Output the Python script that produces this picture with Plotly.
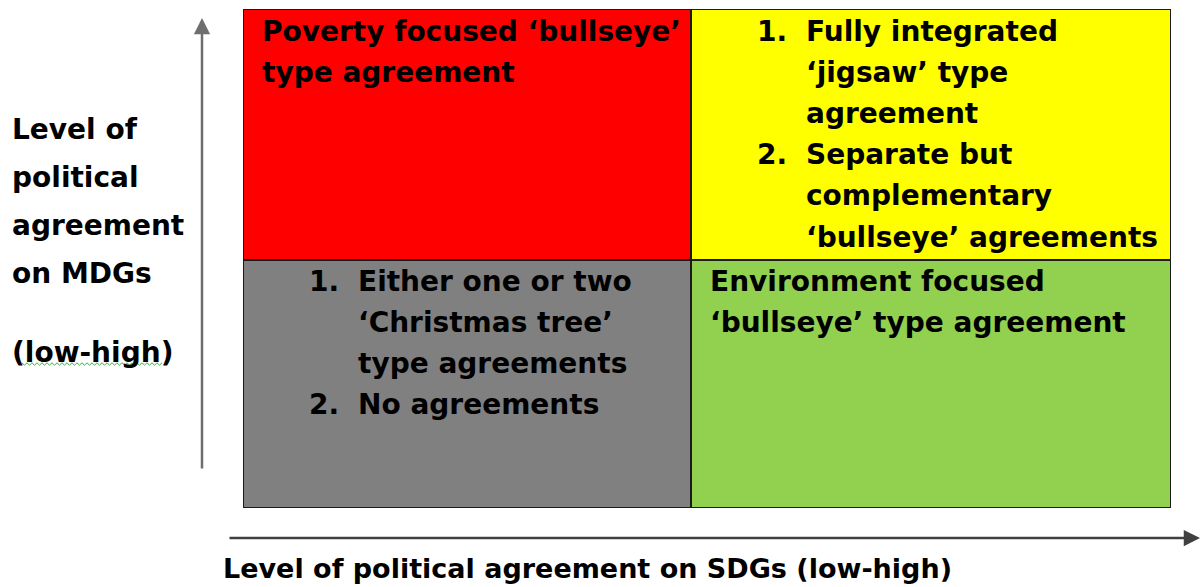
import plotly.graph_objects as go

# ---- data ----
quad_col = [0, 1, 0, 1]          # SDG level: 0 = low, 1 = high
quad_row = [1, 1, 0, 0]          # MDG level: 0 = low, 1 = high
quad_colors = ["#ff0000", "#ffff00", "#808080", "#92d050"]
quad_numbers = [
    [None],
    ["1.", "2."],
    ["1.", "2."],
    [None],
]
quad_items = [
    [["Poverty focused \u2018bullseye\u2019", "type agreement"]],
    [["Fully integrated", "\u2018jigsaw\u2019 type", "agreement"],
     ["Separate but", "complementary", "\u2018bullseye\u2019 agreements"]],
    [["Either one or two", "\u2018Christmas tree\u2019", "type agreements"],
     ["No agreements"]],
    [["Environment focused", "\u2018bullseye\u2019 type agreement"]],
]
y_label_lines = ["Level of", "political", "agreement", "on MDGs"]
y_label_range = "(low-high)"
x_label = "Level of political agreement on SDGs (low-high)"

# ---- layout geometry (pixels) ----
W, H = 1201, 587
L, R, T, B = 243, 1171, 9, 508
XS, YS = 691, 260               # pixel position of the dividers
PW, PH = R - L, B - T
FONT = "DejaVu Sans"
FS = 28
LINE = 41.2

def X(px):
    return px - L

def Y(py):
    return B - py

col_edges = [(X(L), X(XS)), (X(XS), X(R))]
row_edges = [(Y(B), Y(YS)), (Y(YS), Y(T))]

fig = go.Figure()
fig.add_trace(go.Scatter(x=[0, PW], y=[0, PH], mode="markers",
                         marker=dict(opacity=0), hoverinfo="skip", showlegend=False))

shapes = []
annotations = []
font = dict(family=FONT, size=FS, color="black", weight="bold")
# shadow
shapes.append(dict(type="rect", xref="x", yref="y", x0=3, x1=PW + 3, y0=-3, y1=PH - 3,
                   line=dict(width=0), fillcolor="#b0b0b0", layer="below"))
for c, r, col, nums, items in zip(quad_col, quad_row, quad_colors, quad_numbers, quad_items):
    x0, x1 = col_edges[c]
    y0, y1 = row_edges[r]
    shapes.append(dict(type="rect", xref="x", yref="y", x0=x0, x1=x1, y0=y0, y1=y1,
                       fillcolor=col, line=dict(color="#1a1a1a", width=2), layer="below"))
    top_px = 22 if r == 1 else 21
    line_i = 0
    for num, lines in zip(nums, items):
        if num is None:
            text_off = 17
        else:
            text_off = 113
            annotations.append(dict(xref="x", yref="y", x=x0 + 64, y=y1 - (top_px + line_i * LINE),
                                    text=num, showarrow=False, xanchor="left", yanchor="middle",
                                    font=font))
        for ln in lines:
            annotations.append(dict(xref="x", yref="y", x=x0 + text_off, y=y1 - (top_px + line_i * LINE),
                                    text=ln, showarrow=False, xanchor="left", yanchor="middle",
                                    font=font))
            line_i += 1

def px_paper_x(p):
    return (p - L) / PW

def px_paper_y(p):
    return (B - p) / PH

# y label
for i, ln in enumerate(y_label_lines):
    annotations.append(dict(xref="paper", yref="paper", x=px_paper_x(10), y=px_paper_y(129 + i * 48),
                            text=ln, showarrow=False, xanchor="left", yanchor="middle", font=font))
annotations.append(dict(xref="paper", yref="paper", x=px_paper_x(10), y=px_paper_y(352),
                        text=y_label_range, showarrow=False, xanchor="left", yanchor="middle", font=font))
# spell-check squiggle
pts = []
x = 22
k = 0
while x <= 164:
    pts.append((px_paper_x(x), px_paper_y(364 + (1.2 if k % 2 else -1.2))))
    x += 2.5
    k += 1
path = "M " + " L ".join(f"{a:.5f},{b:.5f}" for a, b in pts)
shapes.append(dict(type="path", xref="paper", yref="paper", path=path,
                   line=dict(color="#3cb043", width=1)))

# x label
annotations.append(dict(xref="paper", yref="paper", x=px_paper_x(587), y=px_paper_y(568),
                        text=x_label, showarrow=False, xanchor="center", yanchor="middle",
                        font=dict(family=FONT, size=27, color="black", weight="bold")))

# arrows
annotations.append(dict(xref="paper", yref="paper", x=px_paper_x(202), y=px_paper_y(18),
                        ax=0, ay=452, axref="pixel", ayref="pixel", text="", showarrow=True,
                        arrowhead=2, arrowsize=1.3, arrowwidth=2.5, arrowcolor="#6e6e6e"))
annotations.append(dict(xref="paper", yref="paper", x=px_paper_x(1203), y=px_paper_y(538),
                        ax=-975, ay=0, axref="pixel", ayref="pixel", text="", showarrow=True,
                        arrowhead=2, arrowsize=1.3, arrowwidth=2.5, arrowcolor="#404040"))

fig.update_layout(
    width=W, height=H,
    margin=dict(l=L, r=W - R, t=T, b=H - B),
    paper_bgcolor="white", plot_bgcolor="white",
    xaxis=dict(range=[0, PW], visible=False, fixedrange=True),
    yaxis=dict(range=[0, PH], visible=False, fixedrange=True),
    shapes=shapes, annotations=annotations,
)
fig.write_html("out.html", config={"displayModeBar": False},
               post_script="document.body.style.margin='0';")
